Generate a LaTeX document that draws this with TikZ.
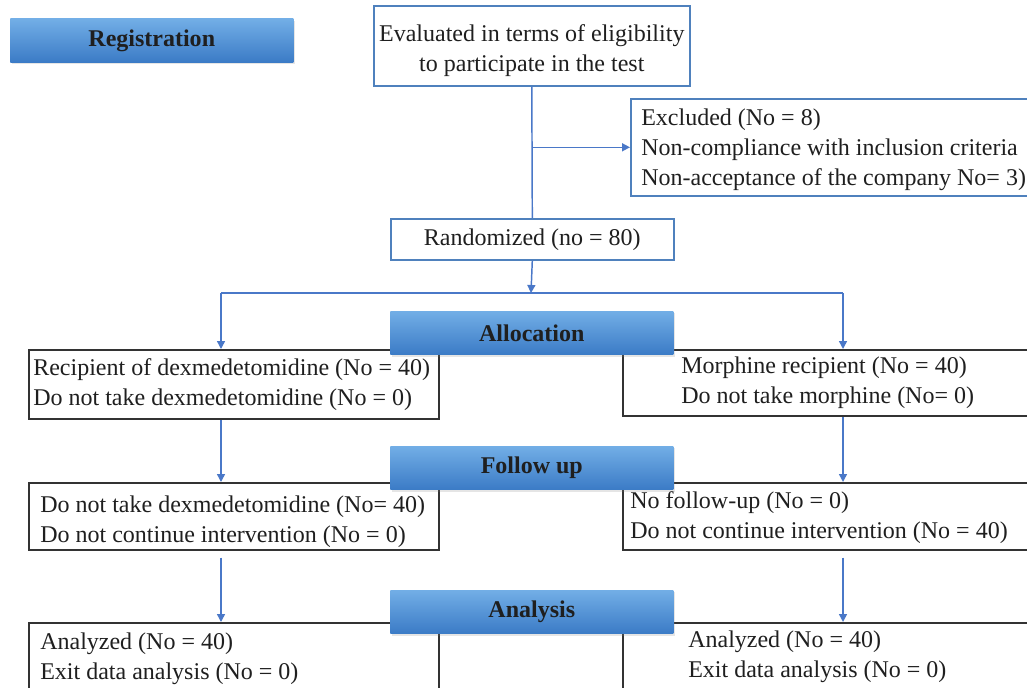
\documentclass[tikz,border=0pt]{standalone}
\usepackage{fontspec}
\setmainfont{Liberation Serif}
\usepackage{tikz}
\usetikzlibrary{arrows.meta,positioning,shadows}
\definecolor{ink}{HTML}{1F1F1F}
\definecolor{frame}{HTML}{333333}
\definecolor{blueline}{HTML}{4A78C8}
\definecolor{blueframe}{HTML}{4F81BD}
\definecolor{bannertop}{HTML}{72AEE6}
\definecolor{bannerbot}{HTML}{3B7BC6}

\begin{document}
\begin{tikzpicture}[
  x=0.75pt,y=-0.75pt,
  font=\fontsize{18}{22.5}\selectfont,
  bluebox/.style={draw=blueframe,line width=1.2pt,fill=white,anchor=north west,inner sep=0pt,text=ink},
  box/.style={draw=frame,line width=1.5pt,fill=white,anchor=north west,inner sep=0pt},
  txt/.style={inner sep=0pt,align=left,text=ink,anchor=west},
  banner/.style={top color=bannertop,bottom color=bannerbot,anchor=north west,minimum width=212.25pt,minimum height=32.5pt,inner sep=0pt,font=\fontsize{18}{22.5}\selectfont\bfseries,text=ink,drop shadow={opacity=0.2,shadow xshift=1pt,shadow yshift=-1.5pt}},
  arr/.style={-{Triangle[length=6pt,width=6pt]},line width=1.1pt,draw=blueline},
  link/.style={line width=1.1pt,draw=blueline}
]
\useasboundingbox (0,0) rectangle (1027,688);
\clip (0,0) rectangle (1027,688);
\fill[white] (0,0) rectangle (1027,688);

% registration
\node[banner,yshift=-2pt] (reg) at (10,16) {Registration};
\node[bluebox,minimum width=237pt,minimum height=60pt] (eval) at (373,5) {};
\node[txt,anchor=center,align=center,yshift=-3.5pt] (eval-t) at (eval.center) {Evaluated in terms of eligibility\\to participate in the test};
\node[bluebox,minimum width=320pt,minimum height=72.75pt] (excl) at (630,98) {};
\node[txt,right=8.25pt of excl.west,yshift=-1.5pt] (excl-t) {Excluded (No = 8)\\Non-compliance with inclusion criteria\\Non-acceptance of the company No= 3)};
\node[bluebox,minimum width=212.25pt,minimum height=30.75pt] (rand) at (390,218) {Randomized (no = 80)};

% group boxes
\node[box,minimum width=307.5pt,minimum height=51.75pt] (dexA) at (28,349) {};
\node[box,minimum width=320pt,minimum height=49.5pt] (morA) at (622,349) {};
\node[box,minimum width=307.5pt,minimum height=50.25pt] (dexF) at (28,482) {};
\node[box,minimum width=320pt,minimum height=50.25pt] (morF) at (622,482) {};
\node[box,minimum width=307.5pt,minimum height=51pt] (dexN) at (28,622) {};
\node[box,minimum width=320pt,minimum height=51pt] (morN) at (622,622) {};

\node[txt,right=3.75pt of dexA.west] (dexA-t) {Recipient of dexmedetomidine (No = 40)\\Do not take dexmedetomidine (No = 0)};
\node[txt,right=44.25pt of morA.west] (morA-t) {Morphine recipient (No = 40)\\Do not take morphine (No= 0)};
\node[txt,right=9pt of dexF.west,yshift=-4pt] (dexF-t) {Do not take dexmedetomidine (No= 40)\\Do not continue intervention (No = 0)};
\node[txt,right=6pt of morF.west,yshift=-1pt] (morF-t) {No follow-up (No = 0)\\Do not continue intervention (No = 40)};
\node[txt,right=9pt of dexN.west,yshift=-1.5pt] (dexN-t) {Analyzed (No = 40)\\Exit data analysis (No = 0)};
\node[txt,right=49.5pt of morN.west] (morN-t) {Analyzed (No = 40)\\Exit data analysis (No = 0)};

% connectors
\coordinate (branch) at (eval.south |- excl.west);
\coordinate (split) at (531,293);
\coordinate (splitL) at (221,293);
\coordinate (splitR) at (843,293);
\draw[link] (eval.south) -- (rand.north);
\draw[arr] (branch) -- (excl.west);
\draw[arr] (rand.south) -- (split);
\draw[link] (splitL) -- (splitR);
\draw[arr] (splitL) -- (splitL |- dexA.north);
\draw[arr] (splitR) -- (splitR |- morA.north);
\draw[arr] (dexA.south -| splitL) -- (dexF.north -| splitL);
\draw[arr] (morA.south -| splitR) -- (morF.north -| splitR);
\draw[arr] ([yshift=-5pt]dexF.south -| splitL) -- (dexN.north -| splitL);
\draw[arr] ([yshift=-5pt]morF.south -| splitR) -- (morN.north -| splitR);

% stage banners
\node[banner] (alloc) at (390,311) {Allocation};
\node[banner] (follow) at (390,446) {Follow up};
\node[banner] (analysis) at (390,590) {Analysis};
\end{tikzpicture}
\end{document}
